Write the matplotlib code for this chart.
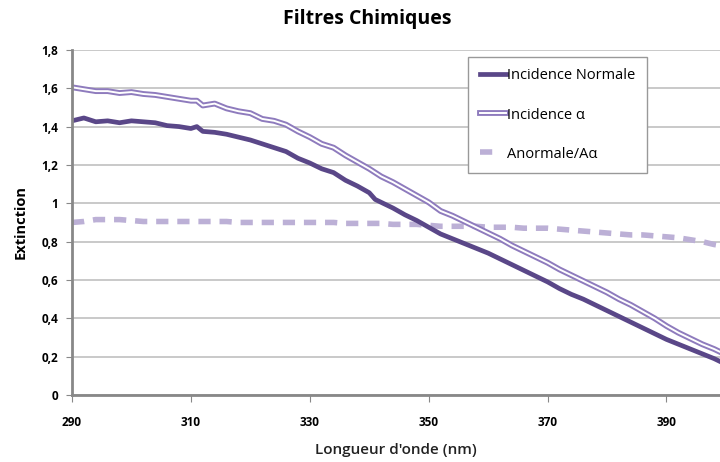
import matplotlib
matplotlib.use("Agg")
import matplotlib.pyplot as plt
from matplotlib.lines import Line2D
from matplotlib.legend_handler import HandlerTuple

plt.rcParams['font.family'] = ['Open Sans', 'DejaVu Sans']

# wavelengths (nm)
longueur = [290, 292, 294, 296, 298, 300, 302, 304, 306, 308, 310, 311,
            312, 314, 316, 318, 320, 322, 324, 326, 328, 330, 332, 334, 336, 338, 340, 341,
            342, 344, 346, 348, 350, 352, 354, 356, 358, 360, 362, 364, 366, 368, 370,
            372, 374, 376, 378, 380, 382, 384, 386, 388, 390, 392, 394, 396, 398, 399]

normale = [1.43, 1.445, 1.425, 1.43, 1.42, 1.43, 1.425, 1.42, 1.405, 1.40, 1.39, 1.40,
           1.375, 1.37, 1.36, 1.345, 1.33, 1.31, 1.29, 1.27, 1.235, 1.21, 1.18, 1.16, 1.12, 1.09, 1.055, 1.02,
           1.005, 0.975, 0.94, 0.91, 0.875, 0.84, 0.815, 0.79, 0.765, 0.74, 0.71, 0.68, 0.65, 0.62, 0.59,
           0.555, 0.525, 0.50, 0.47, 0.44, 0.41, 0.38, 0.35, 0.32, 0.29, 0.265, 0.24, 0.215, 0.19, 0.175]

alpha = [1.605, 1.595, 1.585, 1.585, 1.575, 1.58, 1.57, 1.565, 1.555, 1.545, 1.535, 1.535,
         1.51, 1.52, 1.495, 1.48, 1.47, 1.44, 1.43, 1.41, 1.375, 1.345, 1.31, 1.29, 1.25, 1.215, 1.18, 1.16,
         1.14, 1.11, 1.075, 1.04, 1.005, 0.96, 0.935, 0.905, 0.875, 0.845, 0.815, 0.78, 0.75, 0.72, 0.69,
         0.655, 0.625, 0.595, 0.565, 0.535, 0.50, 0.47, 0.435, 0.40, 0.36, 0.325, 0.295, 0.265, 0.24, 0.225]

anormale = [0.90, 0.905, 0.915, 0.915, 0.915, 0.91, 0.905, 0.905, 0.905, 0.905, 0.905, 0.905,
            0.905, 0.905, 0.905, 0.90, 0.90, 0.90, 0.90, 0.90, 0.90, 0.90, 0.90, 0.90, 0.895, 0.895, 0.895, 0.895,
            0.895, 0.89, 0.89, 0.89, 0.885, 0.88, 0.88, 0.88, 0.88, 0.875, 0.875, 0.875, 0.87, 0.87, 0.87,
            0.865, 0.86, 0.855, 0.85, 0.845, 0.84, 0.835, 0.835, 0.83, 0.825, 0.82, 0.81, 0.80, 0.785, 0.78]

noms = ['Incidence Normale', 'Incidence α', 'Anormale/Aα']

c_normale = '#5a4788'
c_alpha = '#8e7bbd'
c_anormale = '#bcb0d6'

fig = plt.figure(figsize=(7.2, 4.62), dpi=100)
ax = fig.add_axes([0.1, 0.145, 0.9, 0.747])

ax.plot(longueur, anormale, color=c_anormale, lw=4, dashes=(2.2, 1.6), solid_capstyle='round')
ax.plot(longueur, alpha, color=c_alpha, lw=4.2)
ax.plot(longueur, alpha, color='white', lw=1.4)
ax.plot(longueur, normale, color=c_normale, lw=3.4)

ax.set_xlim(290, 399)
ax.set_ylim(0, 1.8)
ax.set_yticks([0, 0.2, 0.4, 0.6, 0.8, 1.0, 1.2, 1.4, 1.6, 1.8])
ax.set_yticklabels(['0', '0,2', '0,4', '0,6', '0,8', '1', '1,2', '1,4', '1,6', '1,8'])
ax.set_xticks([290, 310, 330, 350, 370, 390])
ax.grid(axis='y', color='#c0c0c0', lw=1.2)
ax.set_axisbelow(True)

for s in ['top', 'right']:
    ax.spines[s].set_visible(False)
for s in ['left', 'bottom']:
    ax.spines[s].set_color('#888888')
    ax.spines[s].set_linewidth(2)

ax.tick_params(axis='y', length=4, color='#888888', labelsize=8.5, pad=6)
ax.tick_params(axis='x', length=5, color='#888888', labelsize=8.5, pad=10)
for lab in ax.get_xticklabels() + ax.get_yticklabels():
    lab.set_fontweight('bold')

ax.set_xlabel("Longueur d'onde (nm)", fontsize=11, fontweight='semibold', labelpad=10, color='#222222')
ax.set_ylabel('Extinction', fontsize=10.5, fontweight='bold', labelpad=10)
fig.suptitle('Filtres Chimiques', fontsize=14, fontweight='bold', x=0.51, y=0.98)

h1 = Line2D([], [], color=c_normale, lw=3.4)
h2 = (Line2D([], [], color=c_alpha, lw=4.2), Line2D([], [], color='white', lw=1.4))
h3 = Line2D([], [], color=c_anormale, lw=4, dashes=(2.2, 10))
leg = ax.legend([h1, h2, h3], noms, loc='upper left', bbox_to_anchor=(0.611, 0.98),
                handler_map={tuple: HandlerTuple(ndivide=1, pad=0)},
                handlelength=1.8, handletextpad=0.1, labelspacing=1.65, fontsize=10.5,
                fancybox=False, framealpha=1, borderpad=0.8, borderaxespad=0)
leg.get_frame().set_edgecolor('#999999')

fig.savefig('out.png', dpi=100)
